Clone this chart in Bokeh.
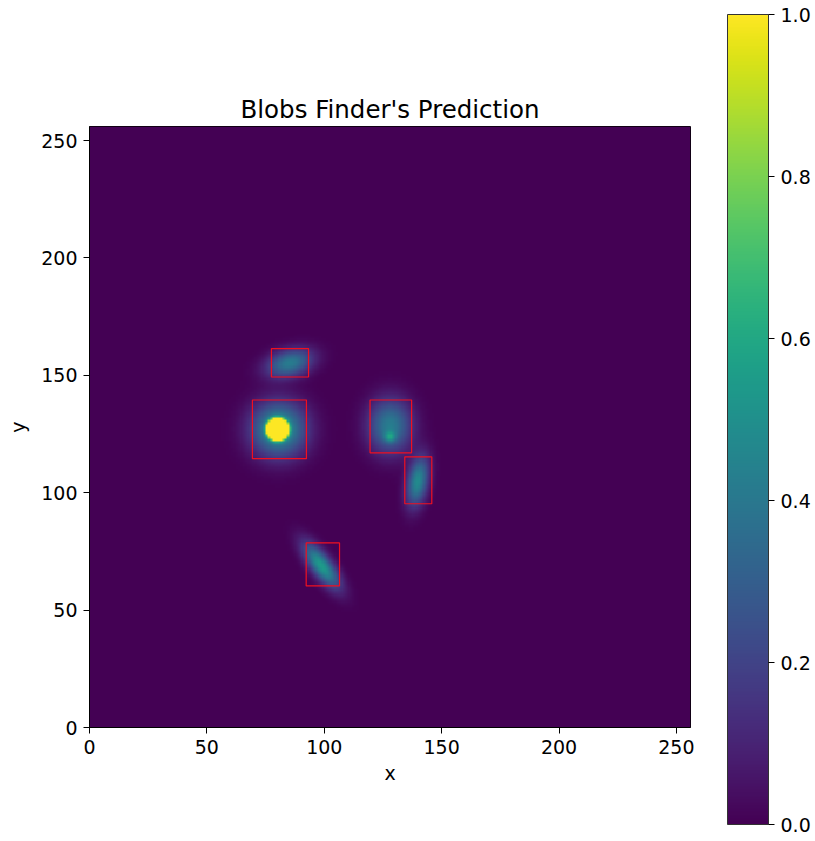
import numpy as np
from bokeh.plotting import figure
from bokeh.models import (LinearColorMapper, Range1d, FixedTicker, NumeralTickFormatter,
                          ColorBar)
from bokeh.palettes import Viridis256
from bokeh.embed import file_html
from bokeh.resources import INLINE

# ---- data ----
grid_size = 256
# Gaussian blob components of the prediction map (data coordinates)
blob_x = [85.3, 80.6, 80.1, 128.0, 128.0, 139.8, 98.8]
blob_y = [155.2, 127.0, 127.0, 128.5, 123.8, 104.8, 68.9]
blob_sx = [6.8, 7.8, 1.8, 6.2, 1.6, 3.0, 7.8]
blob_sy = [3.8, 7.8, 1.8, 7.8, 1.6, 7.2, 2.9]
blob_angle = [15, 0, 0, 0, 0, -10, -53]
blob_amp = [0.42, 0.55, 20.0, 0.42, 0.26, 0.48, 0.55]

# detected boxes
box_left = [77.5, 69.4, 119.5, 134.3, 92.3]
box_right = [93.3, 92.4, 137.2, 145.8, 106.5]
box_bottom = [149.3, 114.5, 117.0, 95.3, 60.3]
box_top = [161.4, 139.5, 139.5, 115.3, 78.6]

xticks = [0, 50, 100, 150, 200, 250]
cbar_ticks = [0.0, 0.2, 0.4, 0.6, 0.8, 1.0]

# ---- build image ----
c = np.arange(grid_size) + 0.5
X, Y = np.meshgrid(c, c)
img = np.zeros((grid_size, grid_size))
for bx, by, sx, sy, ang, amp in zip(blob_x, blob_y, blob_sx, blob_sy, blob_angle, blob_amp):
    t = np.deg2rad(ang)
    dx, dy = X - bx, Y - by
    u = dx * np.cos(t) + dy * np.sin(t)
    v = -dx * np.sin(t) + dy * np.cos(t)
    img += amp * np.exp(-(u ** 2 / (2 * sx ** 2) + v ** 2 / (2 * sy ** 2)))

FONT = "DejaVu Sans"
mapper = LinearColorMapper(palette=Viridis256, low=0, high=1)

p = figure(width=812, height=838, output_backend="svg", toolbar_location=None,
           x_range=Range1d(0, grid_size), y_range=Range1d(0, grid_size),
           title="Blobs Finder's Prediction",
           min_border_left=89, min_border_right=122, min_border_top=126, min_border_bottom=111)
p.image(image=[img], x=0, y=0, dw=grid_size, dh=grid_size, color_mapper=mapper)
p.quad(left=box_left, right=box_right, bottom=box_bottom, top=box_top,
       fill_alpha=0, line_color="#f01020", line_width=1.2)

p.grid.visible = False
p.outline_line_color = "black"
p.outline_line_width = 1
p.title.align = "center"
p.title.text_font = FONT
p.title.text_font_size = "24.5px"
p.title.text_font_style = "normal"
p.title.text_color = "black"
p.title.standoff = 6
for ax in (p.xaxis[0], p.yaxis[0]):
    ax.ticker = FixedTicker(ticks=xticks)
    ax.major_label_text_font = FONT
    ax.major_label_text_font_size = "19px"
    ax.major_label_text_color = "black"
    ax.axis_label_text_font = FONT
    ax.axis_label_text_font_size = "19px"
    ax.axis_label_text_font_style = "normal"
    ax.axis_label_text_color = "black"
    ax.major_tick_in = 0
    ax.major_tick_out = 6
    ax.major_label_standoff = 6
    ax.minor_tick_line_color = None
    ax.axis_line_color = "black"
    ax.major_tick_line_color = "black"
p.xaxis.axis_label = "x"
p.yaxis.axis_label = "y"
p.yaxis.axis_label_standoff = 9

# ---- colorbar ----
cbar = ColorBar(color_mapper=mapper, ticker=FixedTicker(ticks=cbar_ticks),
                formatter=NumeralTickFormatter(format="0.0"),
                width=41, height=810, location=(638, -97),
                padding=0, margin=0, label_standoff=6,
                major_label_text_font=FONT, major_label_text_font_size="19px",
                major_label_text_color="black",
                major_tick_in=0, major_tick_out=6, major_tick_line_color="black",
                minor_tick_line_color=None,
                bar_line_color="#333333", bar_line_width=1,
                background_fill_alpha=0, border_line_color=None)
p.add_layout(cbar, "center")

open("out.html", "w").write(file_html(p, INLINE))
